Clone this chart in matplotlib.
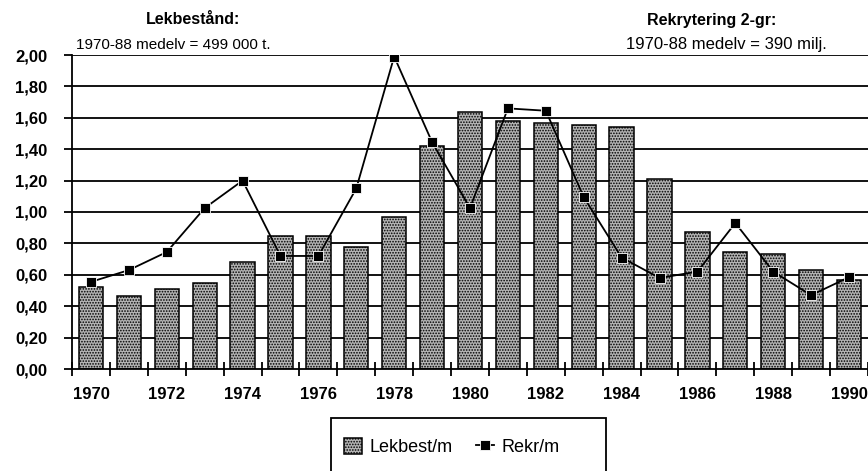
import numpy as np
import matplotlib.pyplot as plt
from matplotlib.patches import Rectangle

plt.rcParams['font.family'] = ['Liberation Sans', 'DejaVu Sans']
plt.rcParams['hatch.linewidth'] = 0.8

years = list(range(1970, 1991))
lekbest = [0.52, 0.465, 0.51, 0.55, 0.68, 0.85, 0.85, 0.78, 0.97, 1.42,
           1.64, 1.58, 1.57, 1.555, 1.54, 1.21, 0.87, 0.745, 0.73, 0.63, 0.57]
rekr = [0.555, 0.63, 0.745, 1.025, 1.20, 0.72, 0.72, 1.15, 1.99, 1.445,
        1.025, 1.66, 1.645, 1.095, 0.71, 0.58, 0.62, 0.93, 0.62, 0.47, 0.585]
yticks = [0.0, 0.2, 0.4, 0.6, 0.8, 1.0, 1.2, 1.4, 1.6, 1.8, 2.0]

W, H = 868, 471
fig = plt.figure(figsize=(W / 100, H / 100), dpi=100)
ax = fig.add_axes([72 / W, 1 - 369 / H, (W - 72) / W, (369 - 55) / H])

x = np.arange(len(years))
for v in yticks[1:]:
    ax.axhline(v, color='black', lw=1.3, zorder=0)

bars = ax.bar(x, lekbest, width=0.64, facecolor='#b4b4b4', edgecolor='black',
              hatch='......', lw=1.1, zorder=2, label='Lekbest/m')
line, = ax.plot(x, rekr, color='black', lw=1.3, marker='s', markersize=6.5,
                markerfacecolor='black', markeredgecolor='white', markeredgewidth=0.6,
                zorder=3, label='Rekr/m')

ax.set_xlim(-0.5, len(years) - 0.5)
ax.set_ylim(0, 2.0)

for s in ['top', 'right']:
    ax.spines[s].set_visible(False)
for s in ['left', 'bottom']:
    ax.spines[s].set_linewidth(1.3)
    ax.spines[s].set_zorder(4)

ax.set_yticks(yticks)
ax.set_yticklabels([f"{v:.2f}".replace('.', ',') for v in yticks],
                   fontsize=12, fontweight='bold')
ax.tick_params(axis='y', length=6, width=1.3, pad=12)

ax.set_xticks(x[::2])
ax.set_xticklabels([str(y) for y in years[::2]], fontsize=12, fontweight='bold')
ax.set_xticks(np.arange(-0.5, len(years), 1.0), minor=True)
ax.tick_params(axis='x', which='major', length=0, pad=13)
ax.tick_params(axis='x', which='minor', direction='inout', length=10, width=1.3)

fig.text(193 / W, 1 - 20 / H, 'Lekbestånd:', ha='center', va='center',
         fontsize=11.5, fontweight='bold')
fig.text(76 / W, 1 - 45 / H, '1970-88 medelv = 499 000 t.', ha='left', va='center',
         fontsize=11)
fig.text(712 / W, 1 - 20 / H, 'Rekrytering 2-gr:', ha='center', va='center',
         fontsize=11.5, fontweight='bold')
fig.text(726 / W, 1 - 45 / H, '1970-88 medelv = 390 milj.', ha='center', va='center',
         fontsize=12)

# legend frame runs off the bottom edge of the picture
fig.patches.append(Rectangle((331 / W, -0.05), (606 - 331) / W, 0.05 + 1 - 418 / H,
                             transform=fig.transFigure, facecolor='white',
                             edgecolor='black', lw=1.3))
fig.legend(handles=[bars, line], loc='center left',
           bbox_to_anchor=(344 / W, 1 - 447 / H), ncol=2, frameon=False,
           fontsize=13, handlelength=1.0, handleheight=1.0, handletextpad=0.4,
           columnspacing=1.3, borderaxespad=0, borderpad=0)

fig.savefig('out.png', dpi=100, facecolor='white')
